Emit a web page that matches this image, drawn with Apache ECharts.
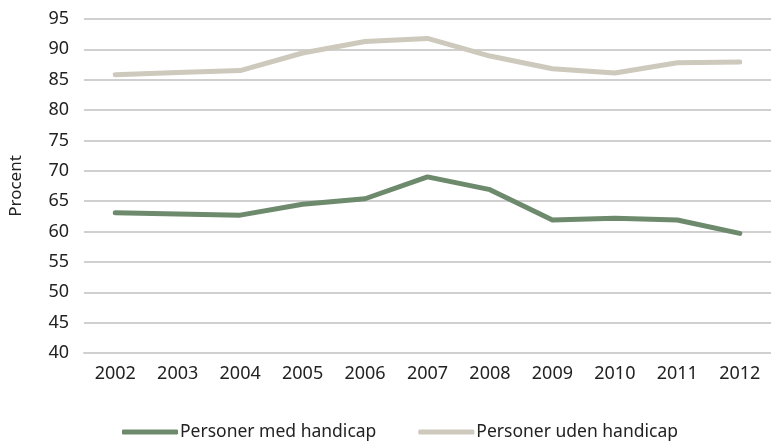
<!DOCTYPE html>
<html>
<head>
<meta charset="utf-8">
<script src="https://cdn.jsdelivr.net/npm/echarts@6/dist/echarts.min.js"></script>
<style>
  html, body { margin: 0; padding: 0; background: #fff; }
  #chart { width: 771px; height: 443px; }
</style>
</head>
<body>
<div id="chart"></div>
<script>
const years = ["2002", "2003", "2004", "2005", "2006", "2007", "2008", "2009", "2010", "2011", "2012"];
const medHandicap = [63.1, 62.9, 62.7, 64.5, 65.4, 69.0, 66.9, 61.9, 62.2, 61.9, 59.7];
const udenHandicap = [85.8, 86.2, 86.5, 89.4, 91.3, 91.8, 88.9, 86.8, 86.1, 87.8, 87.9];

const chart = echarts.init(document.getElementById("chart"));
const font = "Noto Sans";

chart.setOption({
  animation: false,
  grid: { left: 82, top: 19, width: 696, height: 334, containLabel: false },
  legend: {
    bottom: -3,
    left: 117,
    itemWidth: 56,
    itemHeight: 5,
    itemGap: 42,
    icon: "roundRect",
    textStyle: { fontFamily: font, fontSize: 17.5, color: "#222", padding: [0, 0, 0, -3] },
    data: ["Personer med handicap", "Personer uden handicap"]
  },
  xAxis: {
    type: "category",
    data: years,
    axisLine: { lineStyle: { color: "#d0d0d0", width: 2 } },
    axisTick: { show: false },
    axisLabel: { fontFamily: font, fontSize: 18, color: "#222", margin: 12 }
  },
  yAxis: {
    type: "value",
    min: 40,
    max: 95,
    interval: 5,
    name: "Procent",
    nameLocation: "middle",
    nameGap: 59,
    nameTextStyle: { fontFamily: font, fontSize: 17, color: "#222" },
    axisLine: { show: false },
    axisTick: { show: false },
    axisLabel: { fontFamily: font, fontSize: 18, color: "#222", margin: 15 },
    splitLine: { lineStyle: { color: "#d0d0d0", width: 2 } }
  },
  series: [
    {
      name: "Personer med handicap",
      type: "line",
      data: medHandicap,
      symbol: "none",
      color: "#6d8a6d",
      lineStyle: { width: 5, color: "#6d8a6d", cap: "round", join: "round" }
    },
    {
      name: "Personer uden handicap",
      type: "line",
      data: udenHandicap,
      symbol: "none",
      color: "#cdc9bc",
      lineStyle: { width: 5, color: "#cdc9bc", cap: "round", join: "round" }
    }
  ]
});
</script>
</body>
</html>
